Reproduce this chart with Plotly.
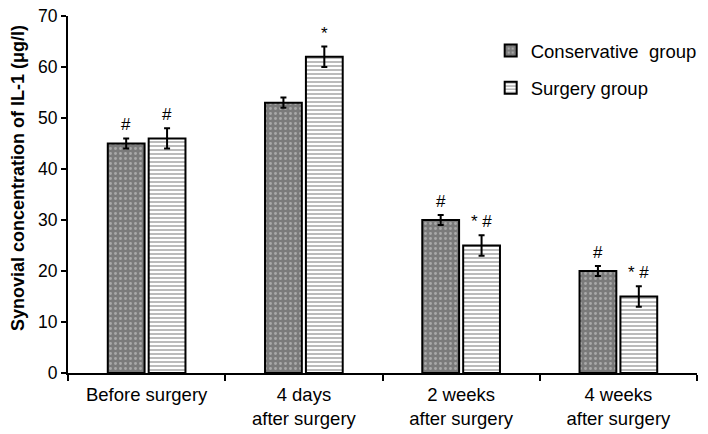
import plotly.graph_objects as go

categories = ["Before surgery", "4 days<br>after surgery", "2 weeks<br>after surgery", "4 weeks<br>after surgery"]
conservative = [45, 53, 30, 20]
conservative_err = [1, 1, 1, 1]
surgery = [46, 62, 25, 15]
surgery_err = [2, 2, 2, 2]
conservative_marks = ["#", "", "#", "#"]
surgery_marks = ["#", "*", "* #", "* #"]
y_title = "<b>Synovial concentration of IL-1 (μg/l)</b>"

font = "Liberation Sans, Arial, sans-serif"

fig = go.Figure()
fig.add_trace(go.Bar(
    name="Conservative  group", x=categories, y=conservative, offsetgroup="a", legendgroup="a",
    error_y=dict(type="data", array=conservative_err, color="black", thickness=2, width=3),
    marker=dict(color="#7a7a7a", line=dict(color="black", width=2),
                pattern=dict(shape=".", fgcolor="#d8d8d8", bgcolor="#7a7a7a", size=5, solidity=0.25)),
))
fig.add_trace(go.Bar(
    name="Surgery group", x=categories, y=surgery, offsetgroup="b", legendgroup="b",
    error_y=dict(type="data", array=surgery_err, color="black", thickness=2, width=3),
    marker=dict(color="white", line=dict(color="black", width=2),
                pattern=dict(shape="-", fgcolor="#555555", bgcolor="white", size=4, solidity=0.4)),
))

slot = (1 - 0.48) / 2
for i, cat in enumerate(categories):
    for vals, errs, marks, side in ((conservative, conservative_err, conservative_marks, -1),
                                    (surgery, surgery_err, surgery_marks, 1)):
        if marks[i]:
            fig.add_annotation(
                x=i + side * slot / 2, y=vals[i] + errs[i], xref="x", yref="y",
                text=marks[i], showarrow=False, yanchor="bottom", yshift=2,
                font=dict(size=17, color="black", family=font),
            )

fig.add_annotation(
    x=-0.0795, y=0.546, xref="paper", yref="paper", text=y_title, textangle=-90,
    showarrow=False, xanchor="center", yanchor="middle",
    font=dict(size=18, color="black", family=font),
)

fig.update_layout(
    width=708, height=434,
    margin=dict(l=68, r=11, t=16, b=61, autoexpand=False),
    paper_bgcolor="white", plot_bgcolor="white",
    barmode="group", bargap=0.48, bargroupgap=0.1,
    font=dict(family=font, size=16, color="black"),
    showlegend=True,
    legend=dict(x=0.672, y=0.955, xanchor="left", yanchor="top",
                font=dict(size=18.5), tracegroupgap=10, bgcolor="rgba(0,0,0,0)"),
)
fig.update_xaxes(
    type="category", showline=True, linecolor="black", linewidth=2, automargin=False,
    ticks="outside", tickson="boundaries", ticklen=6, tickwidth=2, tickcolor="black",
    tickfont=dict(size=18.5), ticklabelstandoff=4, showgrid=False, range=[-0.5, 3.5],
)
fig.update_yaxes(
    range=[0, 70], dtick=10, showline=True, linecolor="black", linewidth=2, automargin=False,
    ticks="outside", ticklen=5, tickwidth=1.5, tickcolor="black", showgrid=False,
    zeroline=False, tickfont=dict(size=17.5), ticklabeloverflow="allow",
)

# remove the browser's default 8px body margin so the figure fills the window
fig.write_html("out.html", config={"displayModeBar": False},
               post_script="document.body.style.margin='0px';")
